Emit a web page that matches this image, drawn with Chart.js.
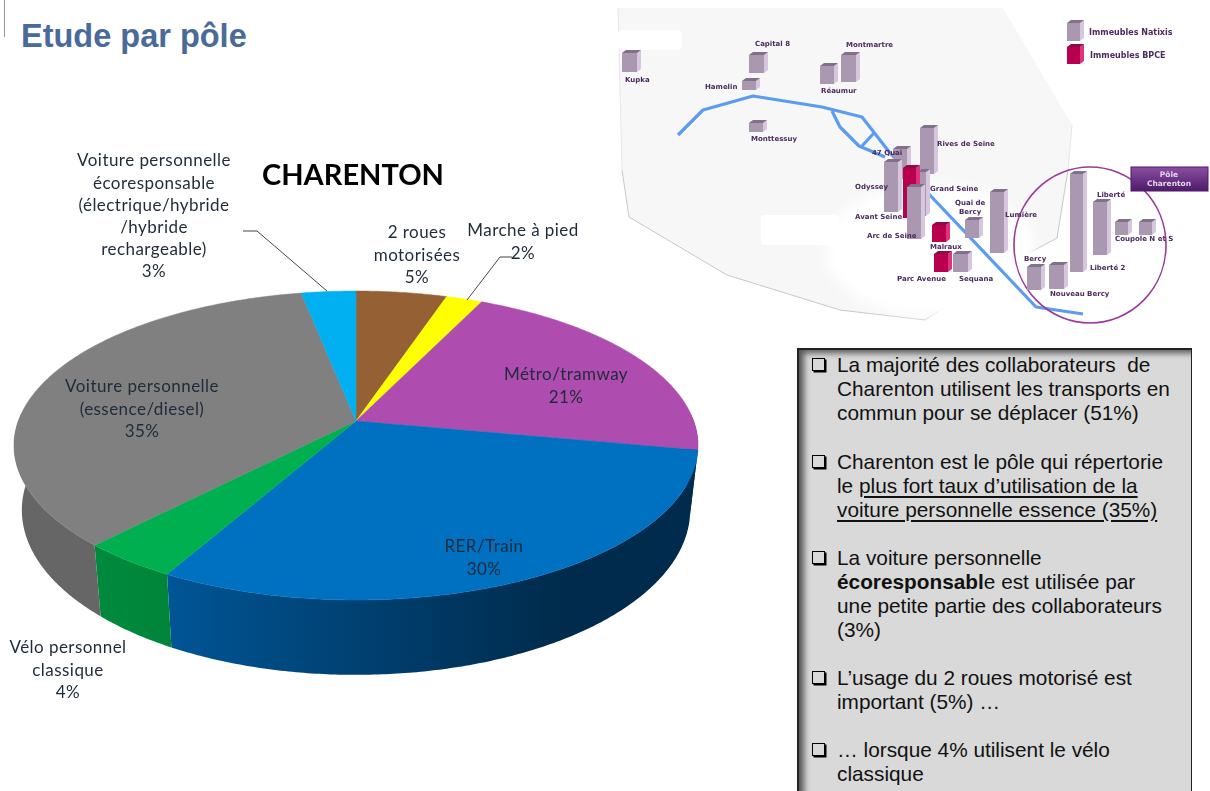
<!DOCTYPE html>
<html lang="fr">
<head>
<meta charset="utf-8">
<title>Etude par pôle</title>
<script src="https://cdn.jsdelivr.net/npm/chart.js@4/dist/chart.umd.min.js"></script>
<style>
html, body { margin: 0; padding: 0; background: #fff; overflow: hidden; }
#page { position: relative; width: 1210px; height: 791px; overflow: hidden; }
#rule { position: absolute; left: 4px; top: 0; width: 1px; height: 37px; background: #999; }
#heading { position: absolute; left: 21px; top: 18px; font: bold 32.5px "Liberation Sans", sans-serif; color: #4a6a9a; white-space: pre; }
#mychart_pie { position: absolute; left: 0; top: 0; }
#map { position: absolute; left: 610px; top: 0; }
#panel { position: absolute; left: 797px; top: 348px; width: 392px; height: 460px; background: #d9d9d9;
  border: 2px solid #222; border-right-width: 1px; box-shadow: inset 7px 5px 6px -2px #555; font: 20.8px/24px "Liberation Sans", sans-serif; color: #111; }
#panel p { position: absolute; left: 38px; margin: 0; white-space: pre; }
#panel p::before { content: ""; position: absolute; left: -25px; top: 5px; width: 11px; height: 11px; border: 1.5px solid #000; box-shadow: 1.5px 1.5px 0 #000; }
#panel u { text-underline-offset: 3px; }
</style>
</head>
<body>
<div id="page">
  <div id="rule"></div>
  <div id="heading">Etude par pôle</div>
  <canvas id="mychart_pie" width="706" height="791"></canvas>
  <svg id="map" width="600" height="340" viewBox="610 0 600 340" xmlns="http://www.w3.org/2000/svg"></svg>
  <div id="panel">
    <p style="top:3px">La majorité des collaborateurs  de
Charenton utilisent les transports en
commun pour se déplacer (51%)</p>
    <p style="top:100px">Charenton est le pôle qui répertorie
le <u>plus fort taux d’utilisation de la</u>
<u>voiture personnelle essence (35%)</u></p>
    <p style="top:196px">La voiture personnelle
<b>écoresponsabl</b>e est utilisée par
une petite partie des collaborateurs
(3%)</p>
    <p style="top:316px">L’usage du 2 roues motorisé est
important (5%) …</p>
    <p style="top:388px">… lorsque 4% utilisent le vélo
classique</p>
  </div>
</div>
<script>
// données du camembert
var categories = [
  '2 roues\nmotorisées',
  'Marche à pied',
  'Métro/tramway',
  'RER/Train',
  'Vélo personnel\nclassique',
  'Voiture personnelle\n(essence/diesel)',
  'Voiture personnelle\nécoresponsable\n(électrique/hybride\n/hybride\nrechargeable)'
];
var values = [5, 2, 21, 30, 4, 35, 3];
var sliceColors = ['#956134', '#ffff00', '#ae4daf', '#0070c0', '#00b050', '#808080', '#00b0f0'];
// face latérale : couleur gauche / couleur droite
var sideColors = [
  ['#704925', '#704925'], ['#bfbf00', '#bfbf00'], ['#002b4c', '#002b4c'],
  ['#005596', '#002b4c'], ['#008a3e', '#00853b'], ['#6f6f6f', '#666666'], ['#0084b4', '#0084b4']
];
// centre de chaque étiquette (x, y de la première ligne)
var labelPos = [[417, 233], [523, 231], [566, 375], [484, 547], [68, 648], [142, 387], [154, 161]];

// projection du disque (perspective)
var cx = 356, apexY = 421, rx = 337.7, ry = 150.6, persp = 0.1586, depth = 63, lowerScale = 0.977;

function project(angle, lower) {
  var u = Math.sin(angle), v = -Math.cos(angle);
  var d = 1 - persp * v;
  var x = cx + rx * u / d * (lower ? lowerScale : 1);
  var y = apexY + ry * v / d + (lower ? depth / d : 0);
  return [x, y];
}

function tracePoints(ctx, points) {
  points.forEach(function(p, i) {
    if (i == 0) ctx.moveTo(p[0], p[1]);
    else ctx.lineTo(p[0], p[1]);
  });
  ctx.closePath();
}

function rimPoints(a, b, lower) {
  var pts = [];
  var n = Math.max(2, Math.ceil((b - a) / 0.01));
  for (var i = 0; i <= n; i++) pts.push(project(a + (b - a) * i / n, lower));
  return pts;
}

var pie3d = {
  id: 'pie3d',
  beforeDatasetsDraw: function(chart) {
    var ctx = chart.ctx;
    var arcs = chart.getDatasetMeta(0).data;
    ctx.save();

    // faces latérales (une bande par pas d'angle, dans un seul chemin pour éviter les raccords)
    arcs.forEach(function(arc, i) {
      var a = arc.startAngle + Math.PI / 2, b = arc.endAngle + Math.PI / 2;
      var top = rimPoints(a, b, false), low = rimPoints(a, b, true);
      var grad = ctx.createLinearGradient(top[top.length - 1][0], 0, Math.min(top[0][0], 560), 0);
      grad.addColorStop(0, sideColors[i][0]);
      grad.addColorStop(1, sideColors[i][1]);
      ctx.beginPath();
      for (var k = 0; k < top.length - 1; k++) {
        if (top[k][1] < apexY - 5 && top[k + 1][1] < apexY - 5) continue;
        tracePoints(ctx, [top[k], top[k + 1], low[k + 1], low[k]]);
      }
      ctx.fillStyle = grad;
      ctx.fill();
    });

    // faces supérieures
    arcs.forEach(function(arc) {
      var a = arc.startAngle + Math.PI / 2, b = arc.endAngle + Math.PI / 2;
      ctx.beginPath();
      tracePoints(ctx, [[cx, apexY]].concat(rimPoints(a, b, false)));
      ctx.fillStyle = arc.options.backgroundColor;
      ctx.strokeStyle = arc.options.backgroundColor;
      ctx.lineWidth = 0.5;
      ctx.fill();
      ctx.stroke();
    });

    // traits de rappel
    ctx.strokeStyle = '#444';
    ctx.lineWidth = 1;
    ctx.beginPath();
    ctx.moveTo(243, 231); ctx.lineTo(257, 231); ctx.lineTo(327, 291);
    ctx.moveTo(467, 300); ctx.lineTo(500, 257); ctx.lineTo(512, 257);
    ctx.stroke();

    // étiquettes
    ctx.font = '17px Lato, sans-serif';
    ctx.letterSpacing = '0.45px';
    ctx.fillStyle = '#1f2a3a';
    ctx.textAlign = 'center';
    ctx.textBaseline = 'middle';
    categories.forEach(function(name, i) {
      var lines = name.split('\n').concat(values[i] + '%');
      lines.forEach(function(line, j) {
        ctx.fillText(line, labelPos[i][0], labelPos[i][1] + j * 22.2);
      });
    });
    ctx.restore();
    return false;
  }
};

var ctx_pie = document.getElementById('mychart_pie');
var myChart = new Chart(ctx_pie, {
  type: 'pie',
  data: {
    labels: categories,
    datasets: [{
      data: values,
      backgroundColor: sliceColors,
      borderWidth: 0,
    }],
  },
  options: {
    responsive: false,
    animation: false,
    devicePixelRatio: 1,
    events: [],
    plugins: {
      legend: { display: false },
      tooltip: { enabled: false },
      title: {
        display: true,
        text: 'CHARENTON',
        color: '#000',
        font: { family: 'Lato, sans-serif', size: 29, weight: 'bold' },
        padding: { top: 158, bottom: 0 },
      },
    },
  },
  plugins: [pie3d],
});

// plan des immeubles (illustration)
var svgNS = 'http://www.w3.org/2000/svg';
var map = document.getElementById('map');
var natixis = ['#a998b0', '#d6c6de', '#80708a'];
var bpce = ['#b8004f', '#e0307f', '#8c0a44'];
// x, y, largeur, hauteur, type
var buildings = [
  [622, 53, 15, 19, 0], [749, 55, 15, 18, 0], [742, 81, 14, 9, 0], [820, 66, 14, 18, 0], [841, 55, 15, 27, 0],
  [749, 123, 14, 9, 0], [1067, 23, 13, 18, 0], [1067, 47, 13, 17, 1],
  [893, 149, 14, 30, 0], [920, 128, 14, 46, 0], [884, 162, 14, 50, 0], [918, 172, 8, 44, 0], [903, 168, 13, 50, 1],
  [907, 187, 14, 52, 0], [932, 225, 14, 17, 1], [934, 254, 14, 18, 1], [953, 254, 15, 18, 0], [965, 220, 14, 18, 0],
  [990, 192, 14, 61, 0], [1070, 174, 13, 98, 0], [1093, 202, 14, 53, 0], [1115, 222, 13, 13, 0], [1139, 222, 13, 13, 0],
  [1027, 267, 14, 23, 0], [1049, 265, 15, 24, 0]
];
// texte, x gauche, y
var mapLabels = [
  ['Kupka', 625, 82], ['Capital 8', 755, 46], ['Montmartre', 846, 47], ['Hamelin', 705, 89], ['Réaumur', 821, 93],
  ['Monttessuy', 751, 141], ['47 Quai', 872, 155], ['Rives de Seine', 937, 146], ['Odyssey', 855, 189], ['Grand Seine', 930, 191],
  ['Avant Seine', 855, 219], ['Quai de', 955, 205], ['Bercy', 959, 214], ['Lumière', 1005, 217], ['Arc de Seine', 867, 238],
  ['Malraux', 930, 249], ['Parc Avenue', 897, 281], ['Sequana', 959, 281], ['Liberté', 1097, 197], ['Coupole N et S', 1115, 241],
  ['Liberté 2', 1090, 270], ['Bercy', 1024, 261], ['Nouveau Bercy', 1050, 296]
];

function add(parent, name, attrs, text) {
  var el = document.createElementNS(svgNS, name);
  for (var k in attrs) el.setAttribute(k, attrs[k]);
  if (text) el.textContent = text;
  parent.appendChild(el);
  return el;
}

var defs = add(map, 'defs', {});
var blur = add(defs, 'filter', { id: 'soft', x: '-5%', y: '-5%', width: '110%', height: '110%' });
add(blur, 'feGaussianBlur', { stdDeviation: 0.5 });
var glow = add(defs, 'filter', { id: 'glow', x: '-20%', y: '-20%', width: '140%', height: '140%' });
add(glow, 'feGaussianBlur', { stdDeviation: 6 });
var grad = add(defs, 'linearGradient', { id: 'pole', x1: 0, y1: 0, x2: 0, y2: 1 });
add(grad, 'stop', { offset: 0, 'stop-color': '#8a4fa0' });
add(grad, 'stop', { offset: 1, 'stop-color': '#4e1a6a' });

var g = add(map, 'g', { filter: 'url(#soft)' });
add(g, 'polygon', {
  points: '618,8 1003,8 1072,125 1068,170 1057,238 1020,258 925,320 840,310 727,275 629,217 622,170',
  fill: '#f8f7f8'
});
// seul le bas du contour est vraiment visible
add(g, 'polyline', { points: '1068,170 1057,238 1020,258 925,320 840,310 727,275 629,217 622,170', fill: 'none', stroke: '#c9c7c9', 'stroke-width': 1 });
add(g, 'polyline', { points: '618,8 622,170', fill: 'none', stroke: '#e6e4e6', 'stroke-width': 1 });
add(g, 'polyline', { points: '1072,125 1068,170', fill: 'none', stroke: '#e6e4e6', 'stroke-width': 1 });
add(g, 'ellipse', { cx: 930, cy: 250, rx: 105, ry: 66, fill: '#fff', filter: 'url(#glow)' });
add(g, 'rect', { x: 618, y: 30, width: 64, height: 20, rx: 4, fill: '#fff' });
add(g, 'rect', { x: 761, y: 215, width: 78, height: 30, rx: 4, fill: '#fff' });

var river = { fill: 'none', stroke: '#5b9cf0', 'stroke-width': 3.2, 'stroke-linejoin': 'round' };
function riverLine(pts) {
  var attrs = Object.assign({ points: pts }, river);
  add(g, 'polyline', attrs);
}
riverLine('678,135 703,110 753,96 822,107 862,117 890,153');
riverLine('832,111 840,127 859,146 885,157');
riverLine('874,133 862,146');
riverLine('890,153 1036,307 1083,314');

add(g, 'ellipse', { cx: 1090, cy: 245, rx: 76, ry: 78, fill: 'none', stroke: '#9a3a9a', 'stroke-width': 1.6 });

buildings.forEach(function(b) {
  var x = b[0], y = b[1], w = b[2], h = b[3], c = b[4] ? bpce : natixis;
  var d = 4, up = 3;
  add(g, 'polygon', { points: [x + w, y, x + w + d, y - up, x + w + d, y + h - up, x + w, y + h].join(' '), fill: c[1] });
  add(g, 'polygon', { points: [x, y, x + d, y - up, x + w + d, y - up, x + w, y].join(' '), fill: c[2] });
  add(g, 'rect', { x: x, y: y, width: w, height: h, fill: c[0] });
});

add(g, 'rect', { x: 1131, y: 167, width: 77, height: 24, fill: 'url(#pole)', stroke: '#4e1a6a', 'stroke-width': 1 });
mapLabels.forEach(function(t) {
  add(g, 'text', { x: t[1], y: t[2], fill: '#4b2a5e', 'font-family': 'DejaVu Sans', 'font-weight': 'bold', 'font-size': 7 }, t[0]);
});
add(g, 'text', { x: 1089, y: 35, fill: '#4b2a5e', 'font-family': 'DejaVu Sans', 'font-weight': 'bold', 'font-size': 8 }, 'Immeubles Natixis');
add(g, 'text', { x: 1090, y: 58, fill: '#4b2a5e', 'font-family': 'DejaVu Sans', 'font-weight': 'bold', 'font-size': 8 }, 'Immeubles BPCE');
add(g, 'text', { x: 1169, y: 177, fill: '#e6d6ee', 'text-anchor': 'middle', 'font-family': 'DejaVu Sans', 'font-weight': 'bold', 'font-size': 7.5 }, 'Pôle');
add(g, 'text', { x: 1169, y: 186, fill: '#e6d6ee', 'text-anchor': 'middle', 'font-family': 'DejaVu Sans', 'font-weight': 'bold', 'font-size': 7.5 }, 'Charenton');
</script>
</body>
</html>
